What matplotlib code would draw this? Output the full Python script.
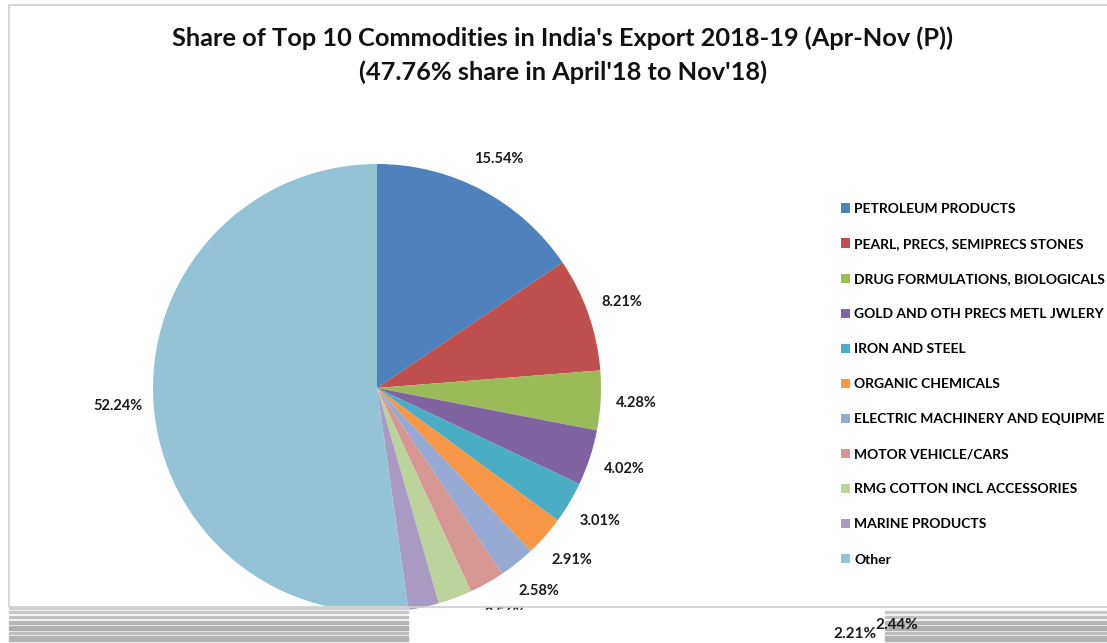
import numpy as np
import matplotlib.pyplot as plt
from matplotlib.patches import Rectangle

plt.rcParams['font.family'] = ['Lato', 'DejaVu Sans']

# data (share of India's exports, %)
commodities = ['PETROLEUM PRODUCTS', 'PEARL, PRECS, SEMIPRECS STONES',
               'DRUG FORMULATIONS, BIOLOGICALS', 'GOLD AND OTH PRECS METL JWLERY',
               'IRON AND STEEL', 'ORGANIC CHEMICALS', 'ELECTRIC MACHINERY AND EQUIPME',
               'MOTOR VEHICLE/CARS', 'RMG COTTON INCL ACCESSORIES', 'MARINE PRODUCTS',
               'Other']
shares = [15.54, 8.21, 4.28, 4.02, 3.01, 2.91, 2.58, 2.56, 2.44, 2.21, 52.24]
colors = ['#4F81BD', '#C0504D', '#9BBB59', '#8064A2', '#4BACC6', '#F79646',
          '#95A9D3', '#D69694', '#BCD39B', '#A89AC2', '#93C3D5']

W, H = 1107, 643
fig = plt.figure(figsize=(W / 100, H / 100), dpi=100)

# chart frame
fig.patches.append(Rectangle((9 / W, 1 - 607 / H), 1.2, (607 - 5) / H,
                             transform=fig.transFigure, fill=False,
                             edgecolor='#d0d0d0', lw=1.2))

fig.text(563 / W, 1 - 38 / H,
         "Share of Top 10 Commodities in India's Export 2018-19 (Apr-Nov (P))",
         ha='center', va='center', fontsize=18.3, fontweight='bold', color='#111111')
fig.text(563 / W, 1 - 72 / H, "(47.76% share in April'18 to Nov'18)",
         ha='center', va='center', fontsize=18.3, fontweight='bold', color='#111111')

# pie: centre (377, 388) px, radius 224 px
cx, cy, r = 377, 388, 224
ax = fig.add_axes([(cx - r) / W, 1 - (cy + r) / H, 2 * r / W, 2 * r / H])
wedges, texts, autotexts = ax.pie(shares, colors=colors, startangle=90, counterclock=False,
                                  autopct='%1.2f%%', pctdistance=1.16,
                                  textprops=dict(fontsize=10.5, fontweight='bold',
                                                 color='#1a1a1a'))
ax.set_xlim(-1, 1)
ax.set_ylim(-1, 1)
ax.set_aspect('auto')

ax.legend(wedges, commodities, loc='upper left', bbox_to_anchor=(834 / W, 1 - 196 / H),
          bbox_transform=fig.transFigure, frameon=False,
          handlelength=0.65, handleheight=0.65, handletextpad=0.3,
          labelspacing=1.66, borderpad=0, prop=dict(weight='bold', size=10))

# torn strip along the bottom of the original screenshot
bx = fig.add_axes([0, 0, 1, (H - 606) / H])
bx.set_xlim(0, W)
bx.set_ylim(H, 606)
bx.axis('off')
bx.add_patch(Rectangle((440, 610), 445, 40, color='white'))
for x0, x1, top in [(9, 408, 606), (885, W, 608)]:
    bx.add_patch(Rectangle((x0, top), x1 - x0, 40, color='white'))
    for y0, h, c in [(607, 1.5, '#d0d0d0'), (611, 1.5, '#c8c8c8'), (616, 2, '#c0c0c0'),
                     (621, 3, '#b5b5b5'), (626, 4, '#b0b0b0'), (632, 2, '#bdbdbd'),
                     (636, 5, '#b3b3b3')]:
        if y0 >= top:
            bx.add_patch(Rectangle((x0, y0), x1 - x0, h, color=c))

# the last two labels sit off in the lower right in the original
for t, (px, py) in zip(autotexts[8:10], [(897, 625), (855, 634)]):
    t.set_visible(False)
    bx.text(px, py, t.get_text(), ha='center', va='center', fontsize=11,
            fontweight='bold', color='#1a1a1a')

fig.savefig('out.png', dpi=100)
